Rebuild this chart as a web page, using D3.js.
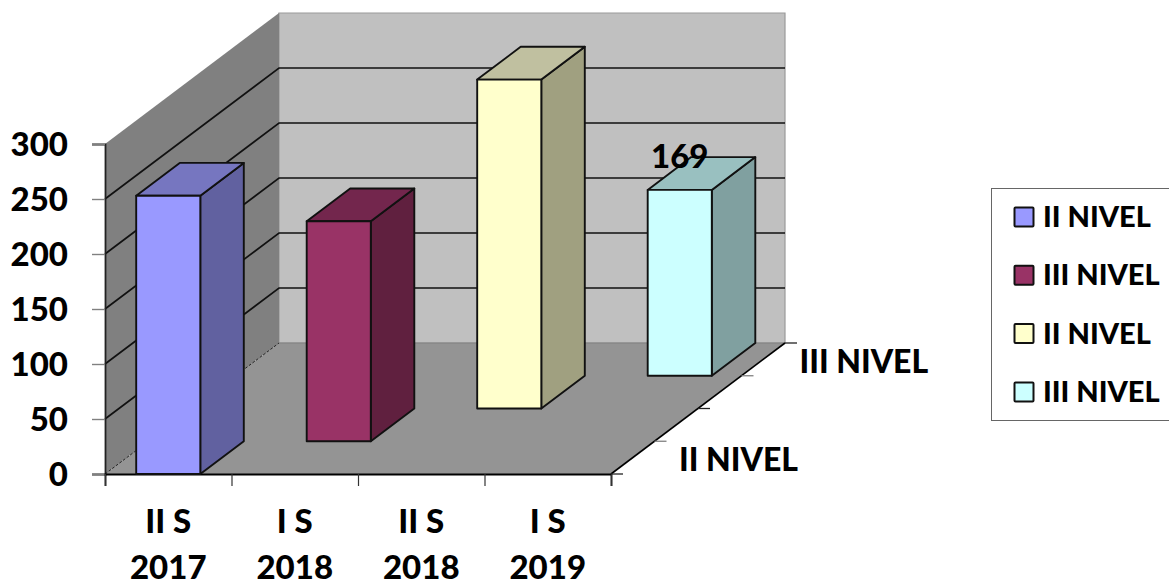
<!DOCTYPE html>
<html>
<head>
<meta charset="utf-8">
<script src="https://cdn.jsdelivr.net/npm/d3@7"></script>
<style>
    html, body { margin: 0; padding: 0; background: #fff; overflow: hidden; }
    svg { display: block; }
    text { font-family: Lato, "Open Sans", sans-serif; font-weight: 900; fill: #000; }
</style>
</head>
<body>
<svg width="1169" height="583"></svg>
<script>
const categories = ["II S 2017", "I S 2018", "II S 2018", "I S 2019"];
const categoryLines = [["II S", "2017"], ["I S", "2018"], ["II S", "2018"], ["I S", "2019"]];
const values = [253, 200, 299, 169];
const seriesNames = ["II NIVEL", "III NIVEL", "II NIVEL", "III NIVEL"];
const depthLabels = ["II NIVEL", "III NIVEL"];
const yTicks = [0, 50, 100, 150, 200, 250, 300];
const faceColors = ["#9999ff", "#993366", "#ffffcc", "#ccffff"];
const topColors = ["#7676c0", "#73264d", "#c0c0a0", "#99c0c0"];
const sideColors = ["#6161a0", "#60203f", "#a0a080", "#80a0a0"];

const svg = d3.select("svg");

// plot frame: front-left corner and the shift to the back wall
const x0 = 105, x1 = 611, yBase = 474, yTop = 144;
const depthX = 174, depthY = -131;

const x = d3.scaleBand().domain(d3.range(categories.length)).range([x0, x1]);
const xBars = d3.scaleBand().domain(d3.range(categories.length)).range([x0, x1 + 2]);
const y = d3.scaleLinear().domain([0, 300]).range([yBase, yTop]);
const depth = d3.scaleLinear().domain([0, seriesNames.length]).range([0, 1]);
const barInner = d3.scaleBand().domain([0]).range([0, x.bandwidth()]).paddingOuter(0.488);

// project (x pixel, value, depth row) to the screen
function pt(px, v, row) {
    const d = depth(row);
    return [px + d * depthX, y(v) + d * depthY];
}
const poly = pts => pts.map(p => p.map(n => n.toFixed(1)).join(",")).join(" ");

// walls and floor
const yMax = yTicks[yTicks.length - 1];
const nRows = seriesNames.length;
svg.append("polygon")
    .attr("points", poly([pt(x0, 0, nRows), pt(x1, 0, nRows), pt(x1, yMax, nRows), pt(x0, yMax, nRows)]))
    .attr("fill", "#c0c0c0").attr("stroke", "#9a9a9a").attr("stroke-width", 1.2);
svg.append("polygon")
    .attr("points", poly([pt(x0, 0, 0), pt(x0, 0, nRows), pt(x0, yMax, nRows), pt(x0, yMax, 0)]))
    .attr("fill", "#808080");
svg.append("polygon")
    .attr("points", poly([pt(x0, 0, 0), pt(x1, 0, 0), pt(x1, 0, nRows), pt(x0, 0, nRows)]))
    .attr("fill", "#949494");

// gridlines
yTicks.forEach(t => {
    if (t === 0 || t === yMax) return;
    svg.append("polyline")
        .attr("points", poly([pt(x0, t, 0), pt(x0, t, nRows), pt(x1, t, nRows)]))
        .attr("fill", "none").attr("stroke", "#111").attr("stroke-width", 1.7);
});
svg.append("line")
    .attr("x1", pt(x0, 0, 0)[0]).attr("y1", pt(x0, 0, 0)[1])
    .attr("x2", pt(x0, 0, nRows)[0]).attr("y2", pt(x0, 0, nRows)[1])
    .attr("stroke", "#222").attr("stroke-width", 1).attr("stroke-dasharray", "3,1.5");
svg.append("line")
    .attr("x1", pt(x0, 0, nRows)[0]).attr("y1", pt(x0, 0, nRows)[1])
    .attr("x2", pt(x1, 0, nRows)[0]).attr("y2", pt(x1, 0, nRows)[1])
    .attr("stroke", "#808080").attr("stroke-width", 1);

// right floor edge
svg.append("line")
    .attr("x1", pt(x1, 0, 0)[0]).attr("y1", pt(x1, 0, 0)[1])
    .attr("x2", pt(x1, 0, nRows)[0]).attr("y2", pt(x1, 0, nRows)[1])
    .attr("stroke", "#000").attr("stroke-width", 1.6);

// axes
const yAxis = d3.axisLeft(y).tickValues(yTicks).tickSize(13).tickPadding(24);
const yG = svg.append("g").attr("transform", `translate(${x0},0)`).call(yAxis);
yG.select(".domain").attr("stroke", "#222").attr("stroke-width", 1.8);
yG.selectAll(".tick line").attr("stroke", "#808080").attr("stroke-width", 1.4);
yG.selectAll(".tick text").attr("font-size", 33).attr("dy", "0.36em")
    .style("font-family", "Lato, sans-serif").style("font-weight", 900).attr("fill", "#000");

const xEdge = d3.scaleLinear().domain([0, categories.length]).range([x0, x1]);
const xAxis = d3.axisBottom(xEdge).ticks(categories.length).tickSize(12).tickFormat("");
const xG = svg.append("g").attr("transform", `translate(0,${yBase})`).call(xAxis);
xG.select(".domain").attr("stroke", "#000").attr("stroke-width", 1.8);
xG.selectAll(".tick line").attr("stroke", "#333").attr("stroke-width", 1.2);

// category labels
categoryLines.forEach((lines, i) => {
    lines.forEach((line, k) => {
        svg.append("text")
            .attr("x", x(i) + x.bandwidth() / 2)
            .attr("y", 533 + k * 46)
            .attr("text-anchor", "middle")
            .attr("font-size", 33)
            .text(line);
    });
});

// depth ticks and labels
d3.range(nRows + 1).forEach(r => {
    const p = pt(x1, 0, r);
    svg.append("line")
        .attr("x1", p[0]).attr("y1", p[1]).attr("x2", p[0] + 12).attr("y2", p[1])
        .attr("stroke", r % 2 ? "#808080" : "#222").attr("stroke-width", 1.3);
});
const depthOffsets = [[24.5, 30], [58, -3]];
depthLabels.forEach((label, i) => {
    const p = pt(x1, 0, i * 2 + 1);
    svg.append("text")
        .attr("x", p[0] + depthOffsets[i][0])
        .attr("y", p[1] + depthOffsets[i][1])
        .attr("font-size", 32)
        .text(label);
});

// bars, back row first
d3.range(values.length).reverse().forEach(i => {
    const l = xBars(i) + barInner(0);
    const r = l + barInner.bandwidth();
    const v = values[i];
    const g = svg.append("g").attr("stroke", "#111").attr("stroke-width", 1.9).attr("stroke-linejoin", "round");
    g.append("polygon").attr("points", poly([pt(r, 0, i), pt(r, 0, i + 1), pt(r, v, i + 1), pt(r, v, i)])).attr("fill", sideColors[i]);
    g.append("polygon").attr("points", poly([pt(l, v, i), pt(r, v, i), pt(r, v, i + 1), pt(l, v, i + 1)])).attr("fill", topColors[i]);
    g.append("polygon").attr("points", poly([pt(l, 0, i), pt(r, 0, i), pt(r, v, i), pt(l, v, i)])).attr("fill", faceColors[i]);
});

// data label on the last bar
const lastI = values.length - 1;
const lastP = pt(xBars(lastI) + x.bandwidth() / 2, values[lastI], lastI);
svg.append("text")
    .attr("x", lastP[0])
    .attr("y", lastP[1] - 22)
    .attr("text-anchor", "middle")
    .attr("font-size", 33)
    .text(values[lastI]);

// legend
const legend = svg.append("g");
legend.append("rect")
    .attr("x", 991.5).attr("y", 188.5).attr("width", 190).attr("height", 232)
    .attr("fill", "#fff").attr("stroke", "#666").attr("stroke-width", 1);
seriesNames.forEach((name, i) => {
    const cy = 217 + i * 58.3;
    legend.append("rect")
        .attr("x", 1014.5).attr("y", cy - 9.5).attr("width", 19).attr("height", 19)
        .attr("fill", faceColors[i]).attr("stroke", "#111").attr("stroke-width", 2).attr("rx", 1);
    legend.append("text")
        .attr("x", 1043).attr("y", cy + 10)
        .attr("font-size", 29)
        .text(name);
});
</script>
</body>
</html>
